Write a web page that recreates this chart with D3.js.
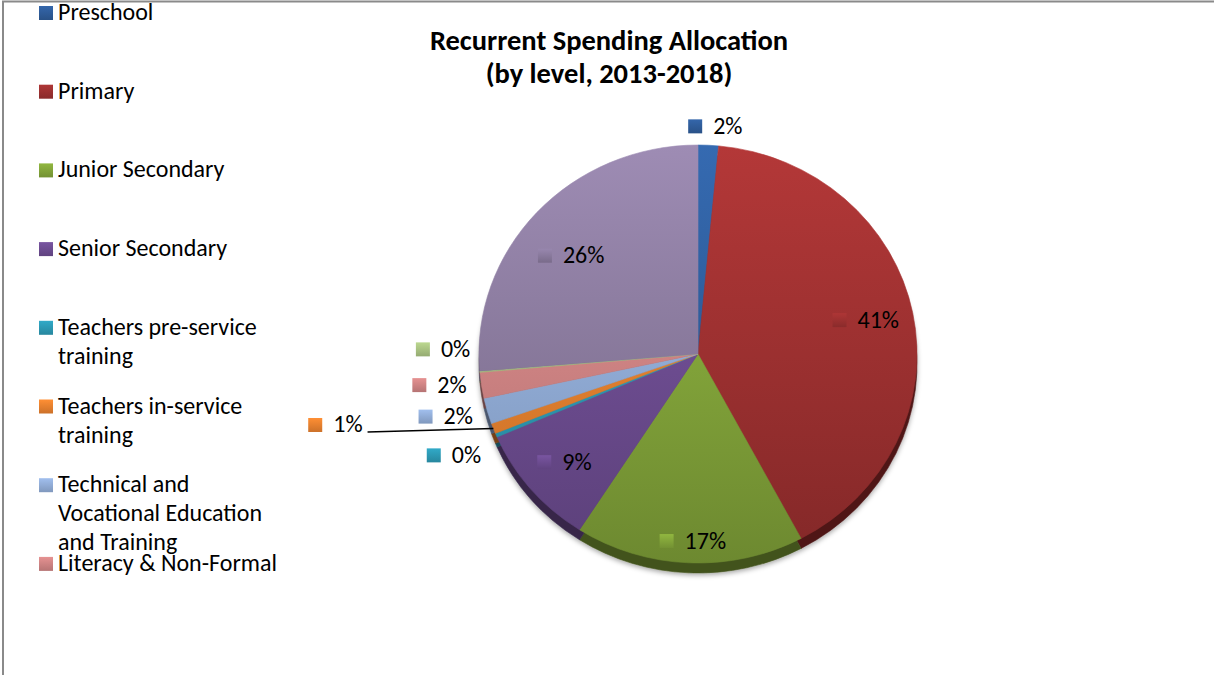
<!DOCTYPE html>
<html>
<head>
<meta charset="utf-8">
<script src="https://cdn.jsdelivr.net/npm/d3@7"></script>
<style>
  body { margin: 0; background: #fff; }
  svg { display: block; }
  text { font-family: Carlito, Calibri, Lato, "Liberation Sans", sans-serif; fill: #000; }
</style>
</head>
<body>
<svg id="chart" width="1214" height="675"></svg>
<script>
// Recurrent spending shares by education level, 2013-2018 (percent of total)
const categories = [
  "Preschool",
  "Primary",
  "Junior Secondary",
  "Senior Secondary",
  "Teachers pre-service training",
  "Teachers in-service training",
  "Technical and Vocational Education and Training",
  "Literacy & Non-Formal",
  "Special Needs Education",
  "Tertiary"
];
const shares = [1.5, 40.7, 16.9, 9.4, 0.3, 0.8, 2.0, 2.0, 0.1, 26.3];
const colors = [
  "#305f9f", "#a23232", "#87aa3c", "#714f96", "#2e9eba",
  "#f08530", "#96b2de", "#d68888", "#afc986", "#8e7ea2"
];
const titleLines = ["Recurrent Spending Allocation", "(by level, 2013-2018)"];
const legendShown = 8; // the frame only has room for the first eight entries

// Where each value label sits: fraction of the radius along the slice's mid-angle, plus a nudge
const labelLayout = [
  { k: 1.10, dx: 6,    dy: 2 },
  { k: 0.80, dx: -4,   dy: -1 },
  { k: 0.80, dx: 2,    dy: 20 },
  { k: 0.80, dx: 0,    dy: 0 },
  { k: 1.15, dx: -12,  dy: 8 },
  { k: 1.00, dx: -158, dy: -3.5, leader: true },
  { k: 1.15, dx: -10,  dy: -3 },
  { k: 1.15, dx: -9.5, dy: -5 },
  { k: 1.15, dx: -4,   dy: -25 },
  { k: 0.80, dx: 2,    dy: 15 }
];

const W = 1214, H = 675;
const cx = 698, cy = 354, rx = 219, ry = 209, depth = 10;
const fontSize = 24, titleSize = 28.5;

const svg = d3.select("#chart");
svg.append("rect").attr("width", W).attr("height", H).attr("fill", "#fff");

// chart frame (top and left edges visible)
svg.append("path")
  .attr("d", `M3,${H + 5}V1.5H${W + 5}`)
  .attr("fill", "none")
  .attr("stroke", "#8a8a8a")
  .attr("stroke-width", 2);

const defs = svg.append("defs");

// shading: slices lighter toward the top of the pie, darker toward the bottom
colors.forEach((c, i) => {
  const g = defs.append("linearGradient")
    .attr("id", "slice" + i)
    .attr("gradientUnits", "userSpaceOnUse")
    .attr("x1", 0).attr("y1", -rx).attr("x2", 0).attr("y2", rx);
  g.append("stop").attr("offset", 0).attr("stop-color", d3.color(c).brighter(0.3));
  g.append("stop").attr("offset", 1).attr("stop-color", d3.color(c).darker(0.6));

  const s = defs.append("linearGradient")
    .attr("id", "swatch" + i)
    .attr("x1", 0).attr("y1", 0).attr("x2", 0).attr("y2", 1);
  s.append("stop").attr("offset", 0).attr("stop-color", d3.color(c).brighter(0.2));
  s.append("stop").attr("offset", 1).attr("stop-color", d3.color(c).darker(0.45));
});

const shadow = defs.append("filter").attr("id", "rimShadow")
  .attr("x", "-10%").attr("y", "-10%").attr("width", "120%").attr("height", "125%");
shadow.append("feDropShadow")
  .attr("dx", 0).attr("dy", 2).attr("stdDeviation", 2.5)
  .attr("flood-color", "#000").attr("flood-opacity", 0.35);

// title
const title = svg.append("text")
  .attr("text-anchor", "middle")
  .attr("font-weight", "bold")
  .attr("font-size", titleSize);
titleLines.forEach((line, i) => {
  title.append("tspan").attr("x", 609).attr("y", 50 + i * 33).text(line);
});

// pie
const data = categories.map((name, i) => ({ name, value: shares[i], i }));
const pie = d3.pie().sort(null).value(d => d.value).startAngle(0).endAngle(2 * Math.PI);
const arcs = pie(data);
const arc = d3.arc().innerRadius(0).outerRadius(rx);

// side wall of the tilted pie, drawn first so only its lower rim shows
const rimOuter = svg.append("g").attr("filter", "url(#rimShadow)");
rimOuter.append("g")
  .attr("transform", `translate(${cx},${cy + depth}) scale(1,${ry / rx})`)
  .selectAll("path")
  .data(arcs)
  .join("path")
  .attr("d", arc)
  .attr("fill", d => d3.color(colors[d.data.i]).darker(2))
  .attr("stroke", d => d3.color(colors[d.data.i]).darker(2))
  .attr("stroke-width", 0.6);

// top surface
svg.append("g")
  .attr("transform", `translate(${cx},${cy}) scale(1,${ry / rx})`)
  .selectAll("path")
  .data(arcs)
  .join("path")
  .attr("d", arc)
  .attr("fill", d => `url(#slice${d.data.i})`)
  .attr("stroke", d => `url(#slice${d.data.i})`)
  .attr("stroke-width", 0.6);

// value labels
const fmt = v => Math.round(v) + "%";
const labels = svg.append("g");
arcs.forEach((a, i) => {
  const L = labelLayout[i];
  const mid = (a.startAngle + a.endAngle) / 2;
  const px = cx + L.k * rx * Math.sin(mid);
  const py = cy - L.k * ry * Math.cos(mid);
  const g = labels.append("g");
  g.append("rect")
    .attr("x", 0).attr("y", -7).attr("width", 14).attr("height", 14)
    .attr("fill", `url(#swatch${i})`);
  g.append("text")
    .attr("x", 25).attr("y", 7.5)
    .attr("font-size", fontSize)
    .text(fmt(a.data.value));
  const bb = g.node().getBBox();
  const gx = px + L.dx - (bb.x + bb.width / 2);
  const gy = py + L.dy;
  g.attr("transform", `translate(${gx},${gy})`);
  if (L.leader) {
    const ex = cx + rx * Math.sin(mid);
    const ey = cy - ry * Math.cos(mid);
    labels.append("path")
      .attr("d", `M${gx + bb.x + bb.width + 5},${gy + 7}L${ex},${ey}`)
      .attr("fill", "none")
      .attr("stroke", "#000")
      .attr("stroke-width", 1.5);
  }
});

// legend, wrapping long names onto extra lines
const legendMaxW = 232, lineH = 29, rowStep = 78.7, legendTop = 6;
const measure = svg.append("text").attr("font-size", fontSize).attr("visibility", "hidden");
function wrap(str) {
  const words = str.split(" ");
  const lines = [];
  let cur = "";
  words.forEach(w => {
    const test = cur ? cur + " " + w : w;
    measure.text(test);
    if (cur && measure.node().getComputedTextLength() > legendMaxW) {
      lines.push(cur);
      cur = w;
    } else {
      cur = test;
    }
  });
  if (cur) lines.push(cur);
  return lines;
}
const legend = svg.append("g");
categories.slice(0, legendShown).forEach((name, i) => {
  const y0 = legendTop + i * rowStep;
  legend.append("rect")
    .attr("x", 39).attr("y", y0).attr("width", 14).attr("height", 14)
    .attr("fill", `url(#swatch${i})`);
  const t = legend.append("text").attr("font-size", fontSize);
  wrap(name).forEach((line, j) => {
    t.append("tspan").attr("x", 58).attr("y", y0 + 14 + j * lineH).text(line);
  });
});
measure.remove();
</script>
</body>
</html>
